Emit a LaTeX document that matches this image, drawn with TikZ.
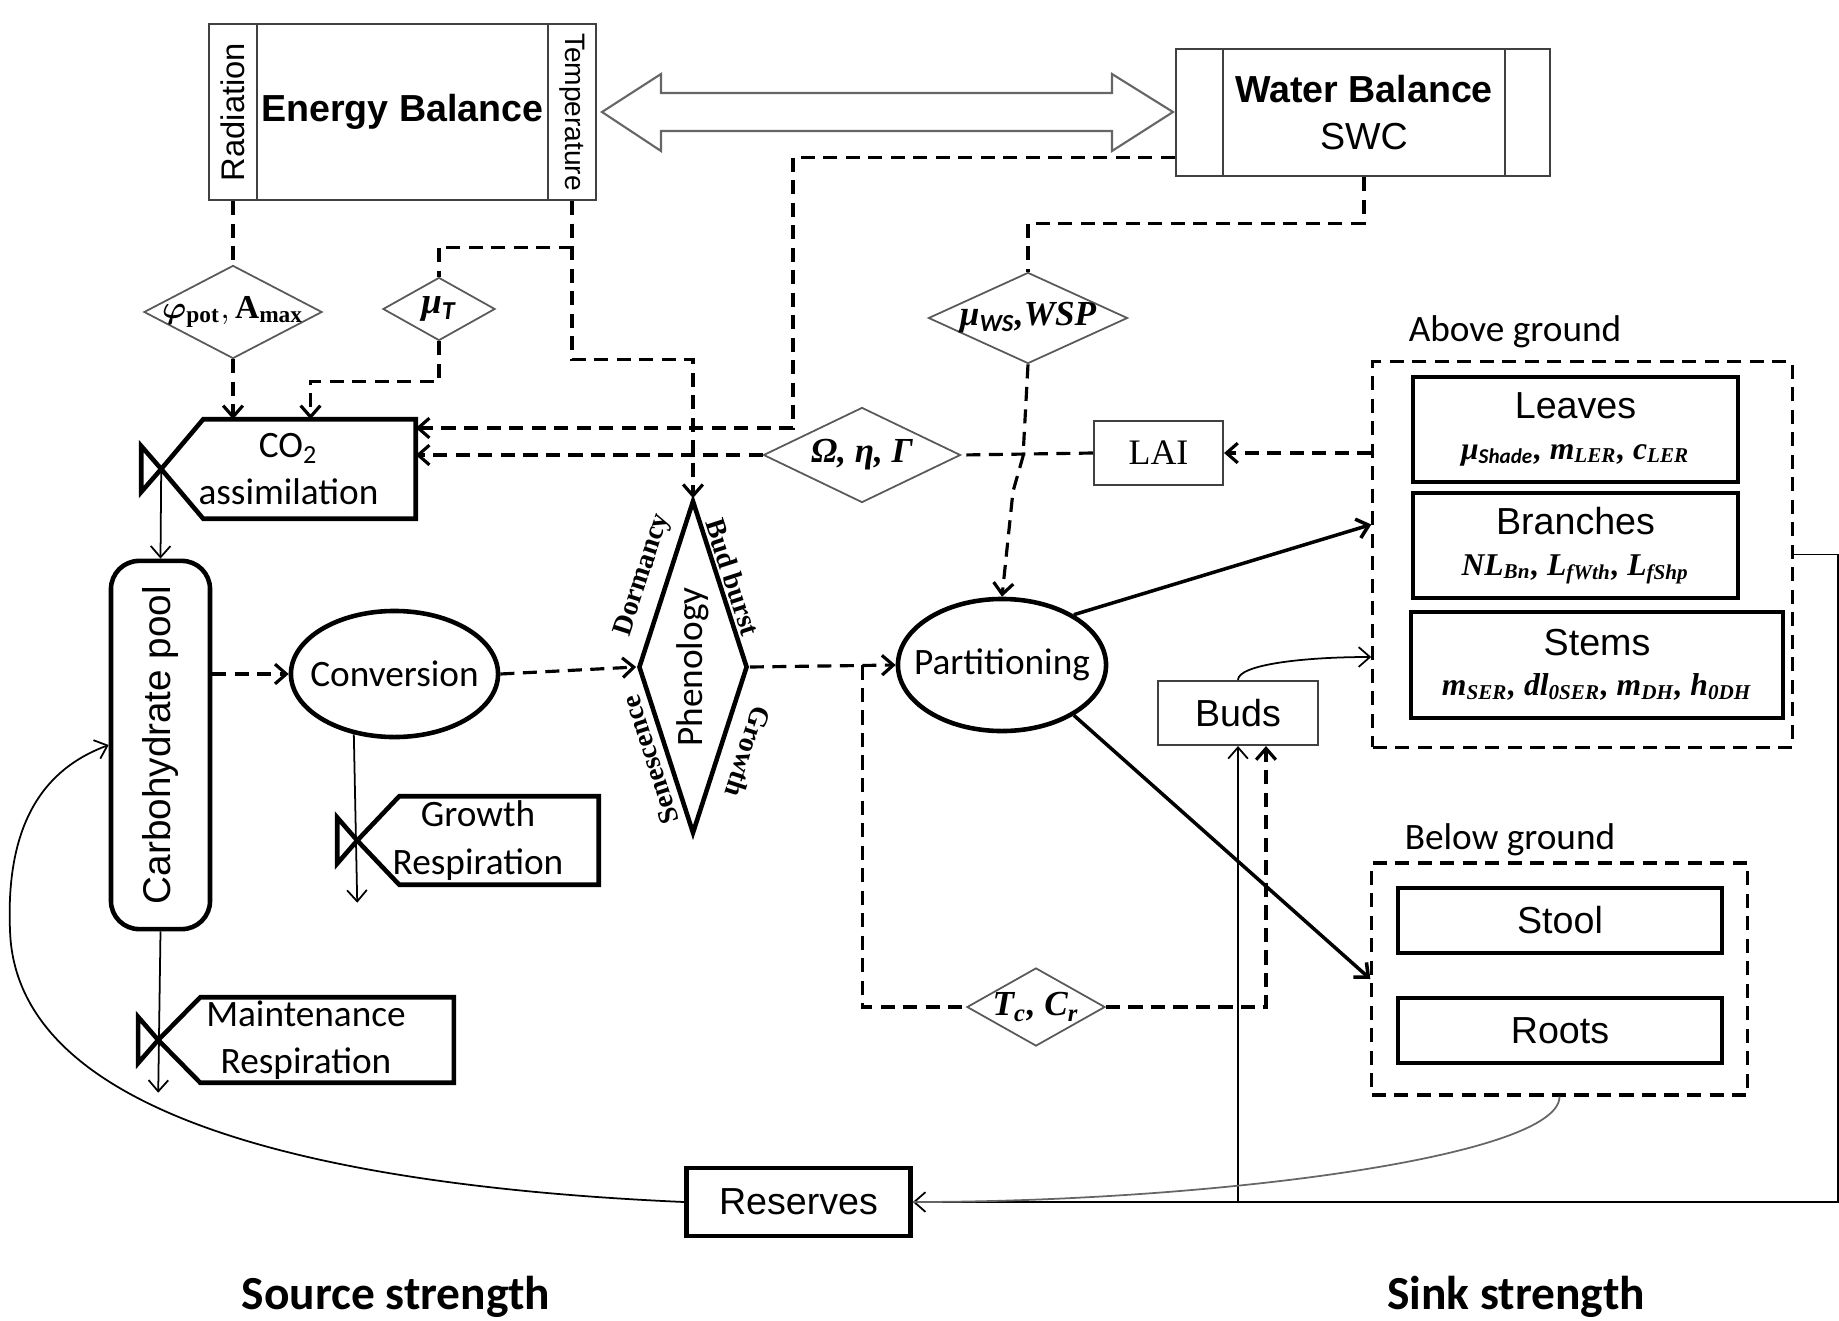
\documentclass[tikz,border=0pt]{standalone}
\usepackage{fontspec}
\setmainfont{Liberation Serif}
\setsansfont{Liberation Sans}
\newfontfamily\calibri{Carlito}
\usepackage{amsmath}
\usepackage{bm}
\usepackage{graphicx}
\usetikzlibrary{arrows.meta,positioning,calc,shapes.geometric}
\newcommand{\subtx}[1]{\textsubscript{#1}}
\newcommand{\pf}[1]{\rmfamily\bfseries\itshape\fontsize{#1}{#1}\selectfont}
\tikzset{
  frame/.style={draw=black!75,line width=0.6pt,inner sep=0pt},
  heavy/.style={draw,line width=1.3pt,inner sep=0pt},
  param/.style={draw=black!65,diamond,inner sep=0pt,line width=0.5pt},
  group/.style={draw,line width=0.9pt,dash pattern=on 4pt off 2.4pt,inner sep=0pt},
  dline/.style={line width=0.9pt,dash pattern=on 4pt off 2.4pt},
  sline/.style={line width=0.5pt},
  stext/.style={font=\sffamily\fontsize{10.7}{13.5}\selectfont},
  ctext/.style={font=\calibri\fontsize{10.6}{13.4}\selectfont},
  edgelbl/.style={font=\rmfamily\bfseries\fontsize{8}{9}\selectfont,inner sep=0pt}
}

\begin{document}
\begin{tikzpicture}[x=0.01cm,y=-0.01cm,>={Straight Barb[length=3.2pt,width=5.6pt]}]
    \useasboundingbox (0,0) rectangle (1839,1321);

    \node[frame,minimum width=0.48cm,minimum height=1.76cm,font=\sffamily\fontsize{9.3}{11}\selectfont] (rad) at (233,112) {\rotatebox{90}{Radiation}};
    \node[frame,minimum width=2.91cm,minimum height=1.76cm,font=\sffamily\bfseries\fontsize{10.7}{13}\selectfont] (eb) at (402.5,112) {Energy Balance};
    \node[frame,minimum width=0.48cm,minimum height=1.76cm,font=\sffamily\fontsize{8}{10}\selectfont] (temp) at (572,112) {\rotatebox{-90}{Temperature}};

    \node[frame,minimum width=0.47cm,minimum height=1.27cm] (wbl) at (1199.5,112.5) {};
    \node[frame,stext,align=center,minimum width=2.82cm,minimum height=1.27cm] (wbm) at (1364,112.5) {\textbf{Water Balance}\\SWC};
    \node[frame,minimum width=0.45cm,minimum height=1.27cm] (wbr) at (1527.5,112.5) {};

    \draw[draw=black!60,line width=0.6pt] (602,112) -- (661,74) -- (661,93) -- (1112,93) -- (1112,74) -- (1173,112)
      -- (1112,151) -- (1112,131) -- (661,131) -- (661,151) -- cycle;

    \node[param,minimum width=1.78cm,minimum height=0.93cm,
      label={[font=\fontsize{9.5}{11}\selectfont]center:$\bm{\varphi}_{\mathbf{pot}},\mathbf{A}_{\mathbf{max}}$}] (phi) at (233,312) {};
    \node[param,minimum width=1.12cm,minimum height=0.63cm,
      label={[font=\pf{10.5}]center:μ\subtx{\calibri T}}] (mut) at (439,309) {};
    \node[param,minimum width=1.97cm,minimum height=0.95cm,
      label={[font=\pf{10}]center:Ω, η, Γ}] (omega) at (862,455) {};
    \node[param,minimum width=1.99cm,minimum height=0.91cm,
      label={[font=\pf{10}]center:μ\subtx{\calibri WS},WSP}] (muws) at (1028,318) {};
    \node[param,minimum width=1.38cm,minimum height=0.78cm,
      label={[font=\pf{10}]center:T\subtx{c}, C\subtx{r}}] (tcr) at (1036,1007) {};

    \node[ctext,align=center,minimum width=2.53cm,minimum height=0.98cm,inner sep=0pt] (co2) at (288.5,469) {CO\subtx{2}\\assimilation};
    \node[ctext,align=center,minimum width=2.40cm,minimum height=0.87cm,inner sep=0pt] (grow) at (478,840.5) {Growth\\Respiration};
    \node[ctext,align=center,minimum width=2.94cm,minimum height=0.84cm,inner sep=0pt] (maint) at (306,1040) {Maintenance\\Respiration};
    \foreach \b in {co2,grow,maint} {
      \draw[line width=1.3pt] ($(\b.north west)+(42,0)$) -- (\b.north east) -- (\b.south east)
        -- ($(\b.south west)+(42,0)$) -- (\b.west) -- cycle;
      \draw[line width=1.3pt] (\b.west) -- ++(-20,-23) -- ++(0,46) -- cycle;
    }

    \node[heavy,rounded corners=8pt,minimum width=0.99cm,minimum height=3.68cm,font=\sffamily\fontsize{11}{13}\selectfont] (carb) at (160.5,745) {\rotatebox{90}{Carbohydrate pool}};
    \node[heavy,ellipse,minimum width=2.07cm,minimum height=1.26cm,label={[ctext]center:Conversion}] (conv) at (394.5,674) {};
    \node[heavy,diamond,minimum width=1.09cm,minimum height=3.33cm,
      label={center:\rotatebox{90}{\calibri\fontsize{10.6}{12}\selectfont Phenology}}] (phen) at (693,667) {};
    \node[edgelbl,rotate=72] (dorm) at (643,575) {Dormancy};
    \node[edgelbl,rotate=-72] (budb) at (733,577) {Bud burst};
    \node[edgelbl,rotate=108] (senes) at (650,760) {Senescence};
    \node[edgelbl,rotate=-108] (grwth) at (748,752) {Growth};
    \node[heavy,ellipse,minimum width=2.08cm,minimum height=1.32cm,label={[ctext]center:Partitioning}] (part) at (1002,665) {};

    \node[frame,minimum width=1.29cm,minimum height=0.64cm,font=\rmfamily\fontsize{10.2}{12}\selectfont] (lai) at (1158.5,453) {LAI};
    \node[frame,stext,minimum width=1.60cm,minimum height=0.64cm] (buds) at (1238,713) {Buds};
    \node[heavy,stext,minimum width=2.24cm,minimum height=0.68cm] (res) at (798.5,1202) {Reserves};

    \node[group,minimum width=4.19cm,minimum height=3.85cm] (ag) at (1582.5,554.5) {};
    \node[ctext] (aglbl) at (1515,332) {Above ground};
    \node[heavy,stext,align=center,minimum width=3.25cm,minimum height=1.05cm] (leaves) at (1575.5,429.5)
      {Leaves\\[-2pt]{\pf{9}μ\subtx{\calibri Shade}, m\subtx{LER}, c\subtx{LER}}};
    \node[heavy,stext,align=center,minimum width=3.25cm,minimum height=1.05cm] (branches) at (1575.5,545.5)
      {Branches\\[-2pt]{\pf{9}NL\subtx{Bn}, L\subtx{fWth}, L\subtx{fShp}}};
    \node[heavy,stext,align=center,minimum width=3.72cm,minimum height=1.06cm] (stems) at (1597,665)
      {Stems\\[-2pt]{\pf{9}m\subtx{SER}, dl\subtx{0SER}, m\subtx{DH}, h\subtx{0DH}}};

    \node[group,minimum width=3.75cm,minimum height=2.32cm] (bg) at (1559.5,979) {};
    \node[ctext] (bglbl) at (1510,840) {Below ground};
    \foreach \nm/\txt/\yy in {stool/Stool/920.5,roots/Roots/1030.5}
      \node[heavy,stext,minimum width=3.24cm,minimum height=0.65cm] (\nm) at (1560,\yy) {\txt};

    \node[font=\calibri\bfseries\fontsize{13.5}{16}\selectfont] (source) at (396,1297) {Source strength};
    \node[font=\calibri\bfseries\fontsize{13.5}{16}\selectfont] (sink) at (1516,1297) {Sink strength};

    \coordinate (mout) at ($(maint.south west)+(0,10)$);
    \coordinate (gout) at ($(grow.south west)+(0,18)$);
    \coordinate (split) at ($(phen.east)!0.77!(part.west)$);
    \coordinate (wbturn) at (793,428);

    \draw[dline] (rad.south) -- (phi.north);
    \draw[dline,->] (phi.south) -- (phi.south |- co2.north);
    \draw[dline] (temp.south) -- ++(0,46) -| (mut.north);
    \draw[dline,->] (mut.south) -- ++(0,40) -| ($(co2.north)+(22,0)$);
    \draw[dline,->] (temp.south) -- ++(0,158) -| (phen.north);
    \draw[dline,->] ($(wbl.south west)+(0,-20)$) -| (wbturn) -- (co2.east |- wbturn);
    \draw[dline] (wbm.south) -- ++(0,46) -| (muws.north);
    \draw[dline,->] (muws.south) -- ++(-5,92) -- ++(-10,35) -- (part.north);
    \draw[dline,->] (ag.west |- lai) -- (lai.east);
    \draw[dline] (lai.west) -- (omega.east);
    \draw[dline,->] (omega.west) -- (co2.east |- omega.west);

    \draw[sline,->] (co2.west) -- (carb.north);
    \draw[sline,->] (carb.south) -- (mout);
    \draw[dline,->] (carb.east |- conv.west) -- (conv.west);
    \draw[sline,->] (conv.236) -- (gout);
    \draw[dline,->] (conv.east) -- (phen.west);
    \draw[dline,->] (phen.east) -- (part.west);
    \draw[dline] (split) |- (tcr.west);
    \draw[dline,->] (tcr.east) -| ($(buds.south)+(28,0)$);

    \draw[line width=1pt,->] (part.35) -- ($(ag.west |- branches)+(0,-21)$);
    \draw[line width=1pt,->] (part.-35) -- (bg.west);
    \draw[sline,->] (buds.north) .. controls +(0,-15) and +(-70,0) .. ($(ag.west |- stems)+(0,-8)$);
    \draw[sline,->] (buds.south |- res.east) -- (buds.south);

    \draw[sline,->] (ag.east) -- ++(44,0) |- (res.east);
    \draw[sline,draw=black!60] (bg.south) .. controls +(0,60) and +(300,0) .. (res.east);
    \draw[sline,->] (res.west) .. controls (300,1185) and (15,1110) .. (10,930)
      .. controls (5,810) and (55,765) .. (carb.west);
  \end{tikzpicture}
\end{document}
